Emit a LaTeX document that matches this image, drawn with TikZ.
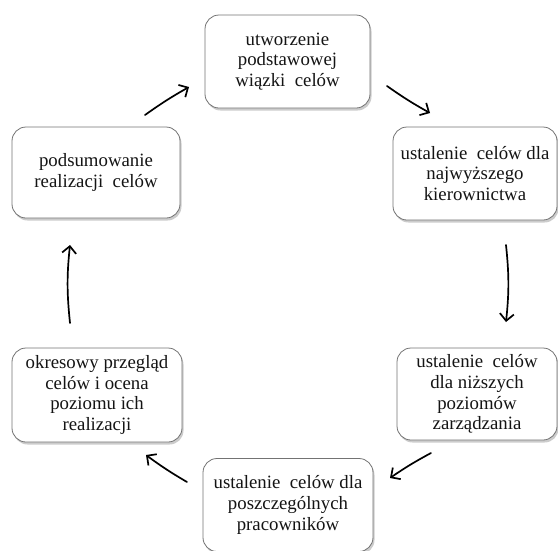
\documentclass[tikz,border=0pt]{standalone}
\usepackage{fontspec}
\setmainfont{Liberation Serif}
\usetikzlibrary{arrows.meta,shadows}
\begin{document}
\begin{tikzpicture}[x=1pt,y=-1pt,
  stage/.style={draw=black!55, line width=0.8pt, rounded corners=14pt, fill=white,
    align=center, font=\fontsize{18.8}{20.8}\selectfont, text=black!92, inner sep=0pt,
    drop shadow={shadow xshift=1.5pt, shadow yshift=-2.5pt, opacity=0.4}},
  flow/.style={line width=1.7pt, line cap=round,
    -{Straight Barb[length=7pt,width=14pt,line width=1.7pt]}}]
\useasboundingbox (0,0) rectangle (558,550);
\clip (0,0) rectangle (558,550);

% the six stages of the cycle
\node[stage, minimum width=165, minimum height=93] (top) at (287.5,61.5)
  {utworzenie\\podstawowej\\wiązki\ \ celów};
\node[stage, minimum width=164, minimum height=93] (rtop) at (475,173.5)
  {ustalenie\ \ celów dla\\najwyższego\\kierownictwa};
\node[stage, minimum width=160, minimum height=92] (rbot) at (477,394)
  {ustalenie\ \ celów\\dla niższych\\poziomów\\zarządzania};
\node[stage, minimum width=170, minimum height=93] (bot) at (288,505)
  {ustalenie\ \ celów dla\\poszczególnych\\pracowników};
\node[stage, minimum width=170, minimum height=94] (lbot) at (97,395)
  {okresowy przegląd\\celów i ocena\\poziomu ich\\realizacji};
\node[stage, minimum width=168, minimum height=91] (ltop) at (96,172.5)
  {podsumowanie\\realizacji\ \ celów};

% end points of the arrows between the stages
\coordinate (a1s) at (145,115); \coordinate (a1e) at (189,87);
\coordinate (a2s) at (387,86);  \coordinate (a2e) at (430,113);
\coordinate (a3s) at (506,245); \coordinate (a3e) at (506,322);
\coordinate (a4s) at (431,453); \coordinate (a4e) at (390,478);
\coordinate (a5s) at (187,482); \coordinate (a5e) at (146,455);
\coordinate (a6s) at (70,323);  \coordinate (a6e) at (70,245);

\draw[flow] (a1s) to[bend left=3] (a1e);
\draw[flow] (a2s) to[bend right=3] (a2e);
\draw[flow] (a3s) to[bend left=6] (a3e);
\draw[flow] (a4s) to[bend right=3] (a4e);
\draw[flow] (a5s) to[bend left=3] (a5e);
\draw[flow] (a6s) to[bend left=6] (a6e);
\end{tikzpicture}
\end{document}
